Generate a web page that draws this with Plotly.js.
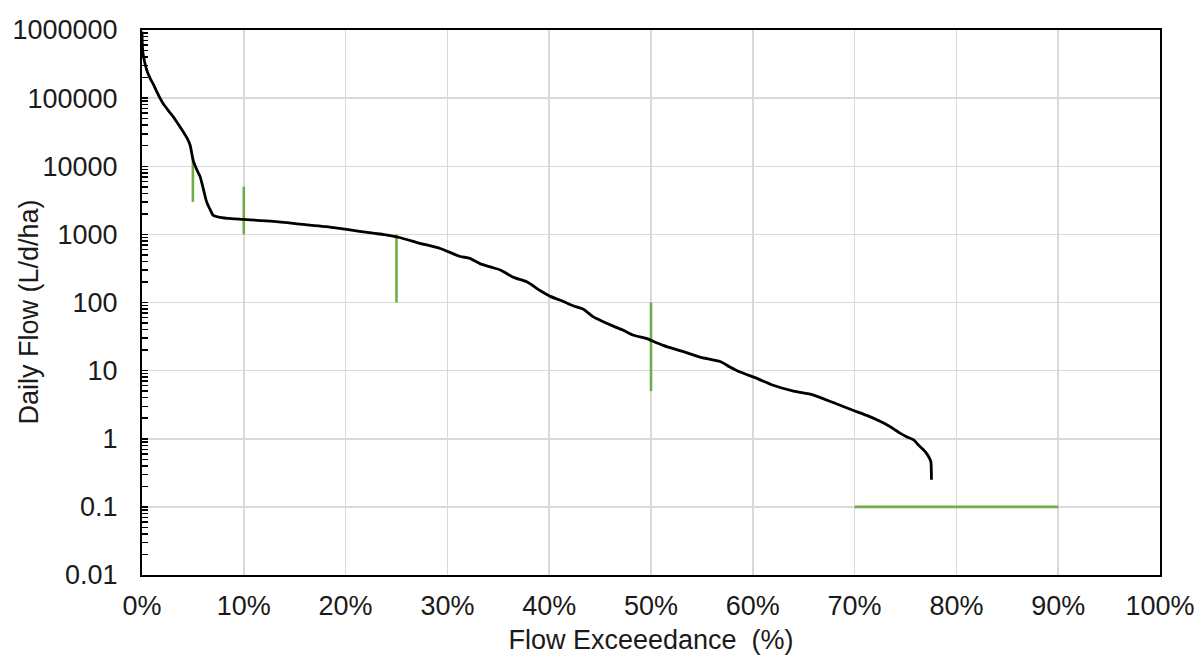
<!DOCTYPE html>
<html>
<head>
<meta charset="utf-8">
<script src="https://cdn.plot.ly/plotly-3.0.1.min.js"></script>
<style>html,body{margin:0;padding:0;background:#fff;}#chart{width:1199px;height:662px;}</style>
</head>
<body>
<div id="chart"></div>
<script>
// Flow duration curve (x = exceedance %, y = daily flow L/d/ha)
const flowX = [0, 0.03, 0.1, 0.46, 0.8, 1.11, 1.45, 1.77, 2.1, 2.42, 2.75, 3.08, 3.4, 3.73, 4.05, 4.39, 4.72, 5.04, 5.4, 5.7, 6.0, 6.35, 6.7, 7.0, 7.66, 8.8, 9.95, 12.9, 16.2, 18.1, 20.1, 22.7, 23.8, 25.3, 27.3, 29.3, 31.2, 32.2, 33.2, 34.2, 35.2, 36.5, 37.8, 39.1, 40.1, 41.1, 42.4, 43.4, 44.3, 45, 46.3, 47.3, 48.3, 49.6, 50.2, 51.2, 52.2, 53.2, 54.8, 56.8, 57.7, 58.7, 60.4, 62, 64, 65.9, 67.9, 69.9, 71.2, 72.5, 73.5, 74.5, 75.1, 75.8, 76.3, 76.8, 77.1, 77.4, 77.5, 77.55];
const flowY = [950000, 600000, 450000, 260000, 195000, 160000, 125000, 100000, 82000, 71000, 61000, 53000, 45000, 38000, 32000, 26500, 20500, 12000, 8800, 7100, 4800, 3000, 2300, 1900, 1780, 1700, 1660, 1550, 1380, 1300, 1180, 1040, 990, 900, 740, 620, 477, 445, 372, 333, 300, 234, 201, 150, 123, 108, 89, 79, 62, 55, 45, 39, 33, 29.5, 27, 23.5, 21, 19, 15.8, 13.6, 11.4, 9.6, 7.7, 6.1, 5.0, 4.4, 3.4, 2.6, 2.2, 1.8, 1.5, 1.2, 1.07, 0.96, 0.80, 0.68, 0.6, 0.5, 0.45, 0.25];

// Green target ranges
const mark5X = [5, 5];    const mark5Y = [3000, 13000];
const mark10X = [10, 10]; const mark10Y = [1000, 5000];
const mark25X = [25, 25]; const mark25Y = [100, 1000];
const mark50X = [50, 50]; const mark50Y = [5, 100];
const markLowX = [70, 90]; const markLowY = [0.1, 0.1];

// Axis ticks
const yTickVals = [0.01, 0.1, 1, 10, 100, 1000, 10000, 100000, 1000000];
const yTickText = ["0.01", "0.1", "1", "10", "100", "1000", "10000", "100000", "1000000"];

const minorVals = [];
for (let d = -2; d < 6; d++) {
  for (let k = 2; k <= 9; k++) minorVals.push(k * Math.pow(10, d));
}

const green = '#70ad47';
const gw = 2.6;
const traces = [
  {x: mark5X, y: mark5Y, mode: 'lines', line: {color: green, width: gw}, hoverinfo: 'skip'},
  {x: mark10X, y: mark10Y, mode: 'lines', line: {color: green, width: gw}, hoverinfo: 'skip'},
  {x: mark25X, y: mark25Y, mode: 'lines', line: {color: green, width: gw}, hoverinfo: 'skip'},
  {x: mark50X, y: mark50Y, mode: 'lines', line: {color: green, width: gw}, hoverinfo: 'skip'},
  {x: markLowX, y: markLowY, mode: 'lines', line: {color: green, width: gw}, hoverinfo: 'skip'},
  {x: flowX, y: flowY, mode: 'lines', line: {color: '#000000', width: 2.8, shape: 'spline', smoothing: 0.6}}
];

const fontFam = '"Liberation Sans", Arial, sans-serif';
const txtColor = '#1a1a1a';
const layout = {
  width: 1199, height: 662,
  margin: {l: 142, r: 39, t: 30, b: 87},
  paper_bgcolor: '#ffffff', plot_bgcolor: '#ffffff',
  showlegend: false,
  font: {family: fontFam, color: txtColor, size: 27},
  xaxis: {
    range: [0, 100], tickmode: 'linear', tick0: 0, dtick: 10, ticksuffix: '%',
    showgrid: true, gridcolor: '#d9d9d9', gridwidth: 1.5,
    showline: true, linecolor: '#000000', linewidth: 2, mirror: true,
    ticks: '', zeroline: false,
    tickfont: {size: 27, family: fontFam, color: txtColor},
    ticklabelstandoff: 6,
    title: {text: 'Flow Exceeedance  (%)', font: {size: 27, family: fontFam, color: txtColor}, standoff: 10}
  },
  yaxis: {
    type: 'log', range: [-2, 6],
    tickmode: 'array', tickvals: yTickVals, ticktext: yTickText,
    showgrid: true, gridcolor: '#d9d9d9', gridwidth: 1.5,
    showline: true, linecolor: '#000000', linewidth: 2, mirror: true,
    ticks: 'inside', ticklen: 6, tickcolor: '#000000', tickwidth: 1.5,
    zeroline: false,
    minor: {tickmode: 'array', tickvals: minorVals, ticks: 'inside', ticklen: 6, tickcolor: '#000000', tickwidth: 1.5, showgrid: false},
    tickfont: {size: 27, family: fontFam, color: txtColor},
    ticklabelstandoff: 17
  },
  annotations: [{
    text: 'Daily Flow (L/d/ha)', textangle: -90,
    xref: 'paper', yref: 'paper', x: 0, y: 0.5,
    xanchor: 'center', yanchor: 'middle',
    xshift: -114, yshift: -10, showarrow: false,
    font: {size: 27, family: fontFam, color: txtColor}
  }]
};

Plotly.newPlot('chart', traces, layout, {displayModeBar: false, staticPlot: true});
</script>
</body>
</html>
